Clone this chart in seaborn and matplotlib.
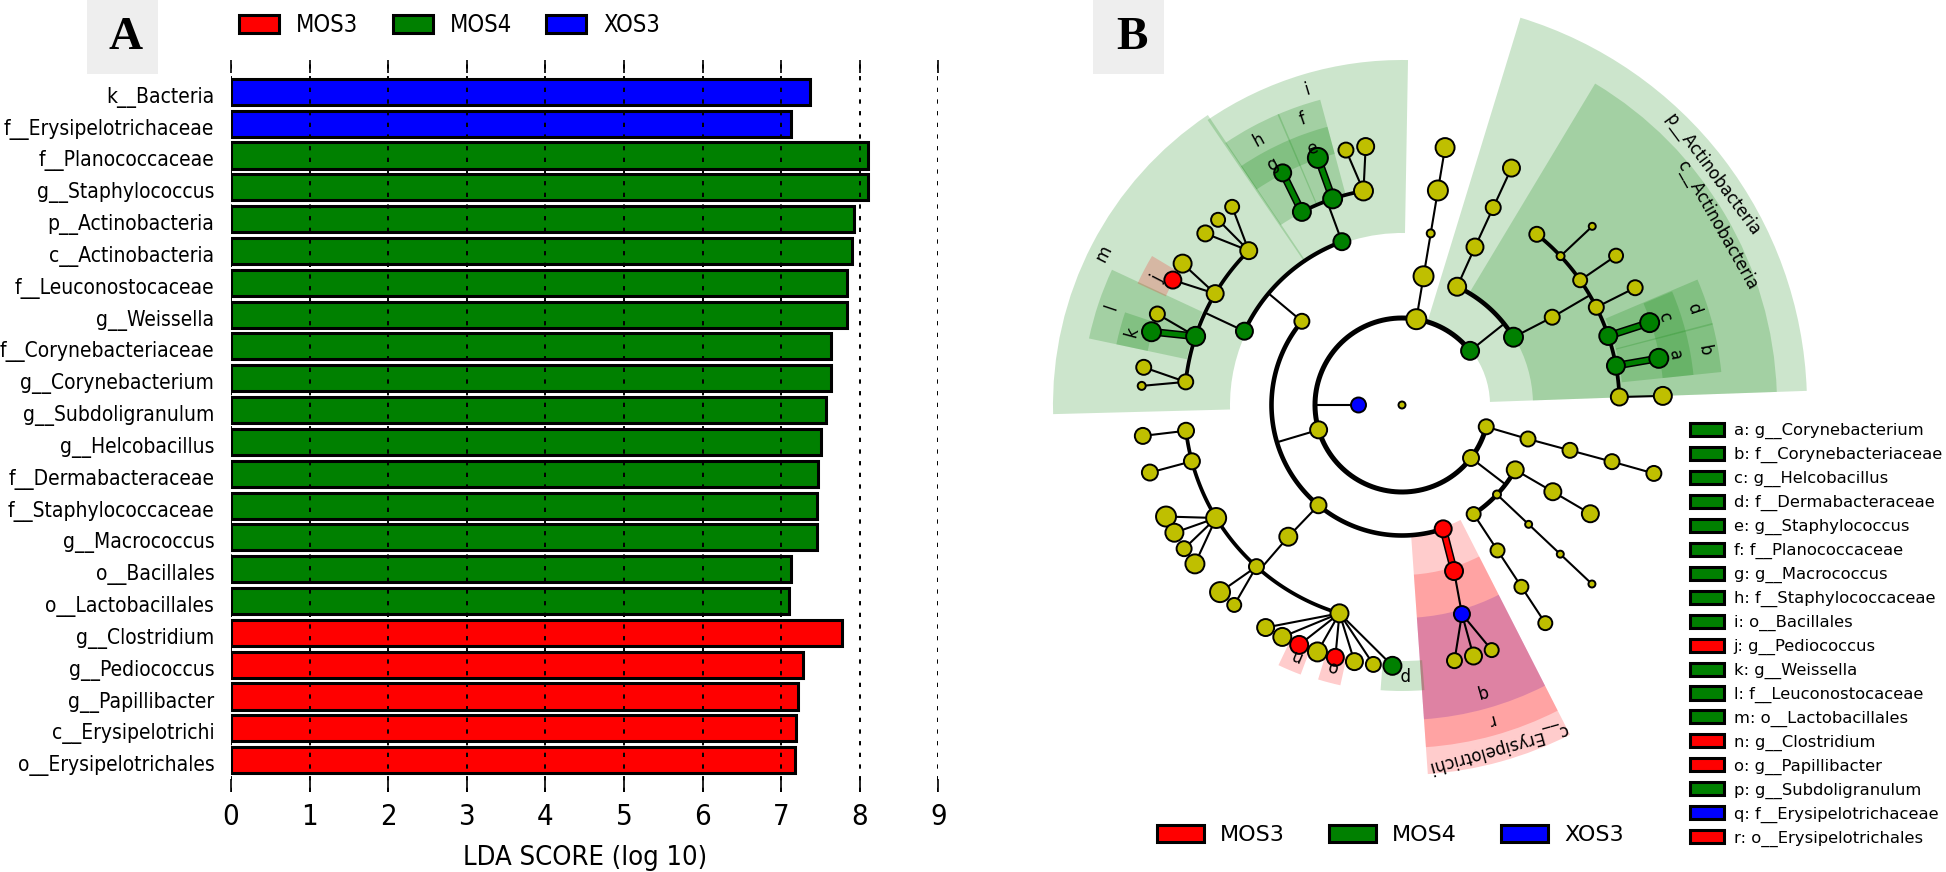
import numpy as np
import pandas as pd
import matplotlib
matplotlib.use('Agg')
import matplotlib.pyplot as plt
from matplotlib.patches import Patch, Rectangle
from matplotlib.transforms import ScaledTranslation
import seaborn as sns

W, H = 1946, 872

group_colors = {'MOS3': '#ff0000', 'MOS4': '#008000', 'XOS3': '#0000ff', 'none': '#bfbf00'}
group_order = ['MOS3', 'MOS4', 'XOS3']

# panel A
bar_labels = ['k__Bacteria', 'f__Erysipelotrichaceae', 'f__Planococcaceae', 'g__Staphylococcus',
              'p__Actinobacteria', 'c__Actinobacteria', 'f__Leuconostocaceae', 'g__Weissella',
              'f__Corynebacteriaceae', 'g__Corynebacterium', 'g__Subdoligranulum', 'g__Helcobacillus',
              'f__Dermabacteraceae', 'f__Staphylococcaceae', 'g__Macrococcus', 'o__Bacillales',
              'o__Lactobacillales', 'g__Clostridium', 'g__Pediococcus', 'g__Papillibacter',
              'c__Erysipelotrichi', 'o__Erysipelotrichales']
bar_scores = [7.36, 7.13, 8.10, 8.10, 7.92, 7.90, 7.83, 7.83, 7.63, 7.63, 7.57, 7.50,
              7.47, 7.46, 7.45, 7.13, 7.10, 7.77, 7.27, 7.21, 7.19, 7.18]
bar_groups = ['XOS3'] * 2 + ['MOS4'] * 15 + ['MOS3'] * 5

# panel B key
key_labels = ['a: g__Corynebacterium', 'b: f__Corynebacteriaceae', 'c: g__Helcobacillus',
              'd: f__Dermabacteraceae', 'e: g__Staphylococcus', 'f: f__Planococcaceae',
              'g: g__Macrococcus', 'h: f__Staphylococcaceae', 'i: o__Bacillales',
              'j: g__Pediococcus', 'k: g__Weissella', 'l: f__Leuconostocaceae',
              'm: o__Lactobacillales', 'n: g__Clostridium', 'o: g__Papillibacter',
              'p: g__Subdoligranulum', 'q: f__Erysipelotrichaceae', 'r: o__Erysipelotrichales']
key_groups = ['MOS4'] * 9 + ['MOS3', 'MOS4', 'MOS4', 'MOS4', 'MOS3', 'MOS3', 'MOS4', 'XOS3', 'MOS3']

# cladogram nodes: angle in degrees, level from the root, abundance size
node_parent = [-1, -1,
               1, 1, 1, 1, 1,
               2, 7, 8, 9,
               3, 3, 11, 13, 14, 12,
               16, 16, 16, 16, 16, 16, 16,
               18, 19, 20, 21, 22, 23,
               4, 4, 4,
               5, 5, 5,
               33, 36, 37,
               34, 39, 40,
               35, 42,
               6, 44, 45, 46,
               30, 30,
               48, 48, 48, 48,
               50, 50, 51, 51, 52, 52, 53, 53, 53,
               49, 49, 49,
               63, 64, 65, 65,
               31,
               70, 70, 70, 70, 70,
               71, 72, 73, 73, 73, 73, 74, 74,
               75, 75, 75, 75, 75, 75, 75, 75,
               32, 92, 93, 93, 93]
node_angle = [0, 180,
              -279.5, -321.5, -163.4, -37.5, -14.5,
              80.5, 80.5, 80.5, 80.5,
              65.0, 31.3, 65.2, 65.2, 65.2, 30.3,
              51.7, 43.2, 35.0, 26.7, 18.5, 10.4, 2.1,
              43.2, 34.9, 26.7, 18.4, 10.3, 2.0,
              140.1, 230.2, 288.4,
              -56.7, -43.3, -29.8,
              -56.7, -56.7, -56.7,
              -43.3, -43.3, -43.3,
              -29.9, -30.0,
              -15.1, -15.1, -15.1, -15.2,
              154.9, 110.2,
              173.9, 161.6, 149.2, 134.8,
              171.7, 175.8, 163.7, 159.6, 151.4, 147.2, 138.9, 134.8, 130.6,
              117.4, 108.6, 100.2,
              117.2, 108.8, 102.4, 98.0,
              229.2,
              186.8, 195.0, 211.3, 228.0, 253.3,
              186.8, 195.0, 205.3, 209.3, 213.4, 217.5, 225.8, 230.0,
              238.5, 242.7, 246.8, 251.1, 255.2, 259.5, 263.7, 267.9,
              287.4, 286.0, 281.6, 285.9, 290.1]
node_level = [0, 1,
              2, 2, 2, 2, 2,
              3, 4, 5, 6,
              3, 3, 4, 5, 6, 4,
              5, 5, 5, 5, 5, 5, 5,
              6, 6, 6, 6, 6, 6,
              3, 3, 3,
              3, 3, 3,
              4, 5, 6,
              4, 5, 6,
              4, 5,
              3, 4, 5, 6,
              4, 4,
              5, 5, 5, 5,
              6, 6, 6, 6, 6, 6, 6, 6, 6,
              5, 5, 5,
              6, 6, 6, 6,
              4,
              5, 5, 5, 5, 5,
              6, 6, 6, 6, 6, 6, 6, 6,
              6, 6, 6, 6, 6, 6, 6, 6,
              4, 5, 6, 6, 6]
node_size = [7, 15,
             20, 18, 17, 16, 15,
             20, 8, 20, 19,
             18, 19, 17, 15, 17, 15,
             15, 8, 14, 15, 18, 18, 17,
             7, 14, 15, 19, 19, 18,
             15, 16, 17,
             14, 8, 17,
             14, 14, 14,
             7, 7, 7,
             17, 17,
             15, 15, 15, 15,
             17, 17,
             15, 19, 17, 17,
             15, 8, 19, 15, 17, 18, 16, 14, 14,
             18, 19, 19,
             17, 20, 15, 17,
             18,
             16, 16, 20, 15, 18,
             16, 16, 20, 18, 15, 19, 20, 14,
             17, 18, 18, 19, 17, 17, 15, 18,
             18, 16, 15, 17, 14]
node_group = ['none'] * len(node_parent)
for i in [3, 12, 21, 22, 27, 28, 48, 49, 51, 56, 63, 64, 66, 67, 91]:
    node_group[i] = 'MOS4'
for i in [32, 58, 86, 88, 92]:
    node_group[i] = 'MOS3'
for i in [1, 93]:
    node_group[i] = 'XOS3'

# parents whose children sit on a shared arc
arc_parents = [1, 3, 4, 5, 16, 30, 48, 49, 70]

# shaded clades
wedge_group = ['MOS4', 'MOS4', 'MOS4', 'MOS4', 'MOS4', 'MOS4', 'MOS4', 'MOS4', 'MOS4', 'MOS4', 'MOS4', 'MOS4',
               'MOS4', 'MOS4', 'MOS3', 'XOS3', 'MOS3', 'MOS3', 'MOS3', 'MOS3', 'MOS4']
wedge_from = [2, 2, 14.5, 5.9, 14.6, 5.9, 89, 123.8, 112.9, 105, 113, 105,
              155, 161.5, 149.2, 274, 274, 274, 244.6, 253, 265.7]
wedge_to = [73, 59, 23, 14.8, 22.8, 14.6, 124.3, 181.5, 124, 113.2, 124, 113,
            168, 168, 155.3, 297, 297, 297, 249.4, 257.6, 274.5]
wedge_inner = [88, 131, 221, 221, 262, 262, 172, 172, 217, 217, 260, 260,
               220, 260, 260, 213, 129, 170, 258, 258, 256]
wedge_outer = [405, 375, 321, 321, 293, 293, 345, 349, 316, 316, 288, 288,
               320, 292, 291, 315, 370, 343, 288, 287, 286]

label_text = ['p__Actinobacteria', 'c__Actinobacteria', 'c__Erysipelotrichi', 'm', 'i', 'h', 'f', 'g', 'e',
              'l', 'k', 'j', 'd', 'b', 'c', 'a', 'n', 'o', 'p', 'q', 'r']
label_angle = [36.6, 29.7, -74.4, 153.1, 106.8, 118.5, 109.2, 118.4, 109.3,
               161.4, 164.8, 152.8, 18.4, 10.3, 18.5, 10.4, 246.9, 255.2, 270.3, -74.3, -74.3]
label_radius = [387, 363, 356, 334, 329, 301, 302, 273, 272,
                306.6, 280, 275, 307, 307, 277, 277.5, 272, 271, 270, 298, 327]

RING = 43.5


def fx(px):
    return px / W


def fy(px):
    return 1 - px / H


def add_tag(x0, x1, letter, cx):
    fig.add_artist(Rectangle((fx(x0), fy(74)), (x1 - x0) / W, 74 / H, transform=fig.transFigure,
                             facecolor='#eeeeee', edgecolor='none'))
    fig.text(fx(cx), fy(38), letter, family='Liberation Serif', weight='bold', fontsize=34,
             ha='center', va='center', color='k')


sns.set_style('white')
plt.rcParams['font.family'] = 'DejaVu Sans'
plt.rcParams['font.stretch'] = 'condensed'
for key in ['text.color', 'axes.labelcolor', 'xtick.color', 'ytick.color']:
    plt.rcParams[key] = 'k'

fig = plt.figure(figsize=(W / 100, H / 100), dpi=100)

# --- panel A ---
ax_a = fig.add_axes([fx(231), fy(792), (938.5 - 231) / W, 732 / H])
sns.barplot(x=bar_scores, y=bar_labels, hue=bar_groups, hue_order=group_order,
            palette=group_colors, dodge=False, width=0.82, edgecolor='k', linewidth=2.2,
            saturation=1, ax=ax_a)
ax_a.set_xlim(0, 9)
ax_a.set_ylim(22, -1)
ax_a.set_xticks(range(10))
ax_a.grid(axis='x', linestyle=(0, (2.2, 3.8)), color='k', linewidth=1.4)
ax_a.set_axisbelow(False)
ax_a.tick_params(axis='x', direction='in', top=True, bottom=True, length=9.4, width=1.2,
                 labelsize=21, pad=8)
ax_a.tick_params(axis='y', length=0, labelsize=15, pad=12)
ax_a.set_xlabel('LDA SCORE (log 10)', fontsize=19.6, labelpad=10)
ax_a.set_ylabel('')
# labels sit a little under the bar centres
shift = ScaledTranslation(0, -3 / 100, fig.dpi_scale_trans)
for lab in ax_a.get_yticklabels():
    lab.set_transform(lab.get_transform() + shift)
sns.despine(ax=ax_a, left=True, bottom=True)
sns.move_legend(ax_a, 'upper left', bbox_to_anchor=(fx(239), fy(13)), bbox_transform=fig.transFigure,
                ncol=3, frameon=False, title=None, fontsize=17, handlelength=1.7, handleheight=0.8,
                handletextpad=0.72, columnspacing=1.45, borderpad=0, borderaxespad=0)
add_tag(87, 158, 'A', 126)

# --- panel B ---
plt.rcParams['font.stretch'] = 'normal'
ax_b = fig.add_axes([fx(982), fy(825), 840 / W, 840 / H], projection='polar')

for g, a0, a1, r0, r1 in zip(wedge_group, wedge_from, wedge_to, wedge_inner, wedge_outer):
    ax_b.bar(np.radians(a0), r1 - r0, width=np.radians(a1 - a0), bottom=r0, align='edge',
             color=group_colors[g], alpha=0.2, linewidth=0, zorder=1)

theta = np.radians(node_angle) % (2 * np.pi)
radius = np.array(node_level) * RING

for i, p in enumerate(node_parent):
    if p < 0 or p in arc_parents:
        continue
    same = node_group[i] == node_group[p] and node_group[i] != 'none'
    if same:
        ax_b.plot([theta[p], theta[i]], [radius[p], radius[i]], color='k', lw=5.6, zorder=3,
                  solid_capstyle='butt')
        ax_b.plot([theta[p], theta[i]], [radius[p], radius[i]], color=group_colors[node_group[i]],
                  lw=3.4, zorder=3.1, solid_capstyle='butt')
    else:
        ax_b.plot([theta[p], theta[i]], [radius[p], radius[i]], color='k', lw=1.5, zorder=3)

for p in arc_parents:
    kids = [i for i, q in enumerate(node_parent) if q == p]
    r = radius[kids[0]]
    ax_b.plot([theta[p], theta[p]], [radius[p], r], color='k', lw=1.5, zorder=3)
    a = np.radians(np.linspace(min(node_angle[i] for i in kids), max(node_angle[i] for i in kids), 120))
    ax_b.plot(a % (2 * np.pi), np.full(a.shape, r), color='k', lw=4.2 - 0.3 * node_level[kids[0]],
              zorder=3, solid_capstyle='round')

nodes = pd.DataFrame({'theta': theta, 'r': radius, 'group': node_group, 'size': node_size})
sns.scatterplot(data=nodes, x='theta', y='r', hue='group', palette=group_colors, size='size',
                sizes={d: (d * 0.72) ** 2 for d in set(node_size)}, edgecolor='k', linewidth=1.4,
                legend=False, zorder=5, ax=ax_b)

for t, a, r in zip(label_text, label_angle, label_radius):
    ax_b.text(np.radians(a) % (2 * np.pi), r, t, rotation=a - 90, rotation_mode='anchor',
              ha='center', va='center', fontsize=12, zorder=6)

ax_b.set_xlim(0, 2 * np.pi)
ax_b.set_ylim(0, 420)
ax_b.axis('off')
add_tag(1093, 1163.5, 'B', 1132)

fig.legend(handles=[Patch(facecolor=group_colors[g], edgecolor='k', linewidth=2.2, label=l)
                    for l, g in zip(key_labels, key_groups)],
           loc='upper left', bbox_to_anchor=(fx(1690), fy(423)), frameon=False, fontsize=11.8,
           handlelength=2.1, handleheight=0.85, handletextpad=0.57, labelspacing=0.46,
           borderpad=0, borderaxespad=0)
fig.legend(handles=[Patch(facecolor=group_colors[g], edgecolor='k', linewidth=2.2, label=g)
                    for g in group_order],
           loc='upper left', bbox_to_anchor=(fx(1157), fy(825)), ncol=3, frameon=False, fontsize=16,
           handlelength=2.1, handleheight=0.8, handletextpad=0.75, columnspacing=1.97,
           borderpad=0, borderaxespad=0)

fig.savefig('out.png', dpi=100)
